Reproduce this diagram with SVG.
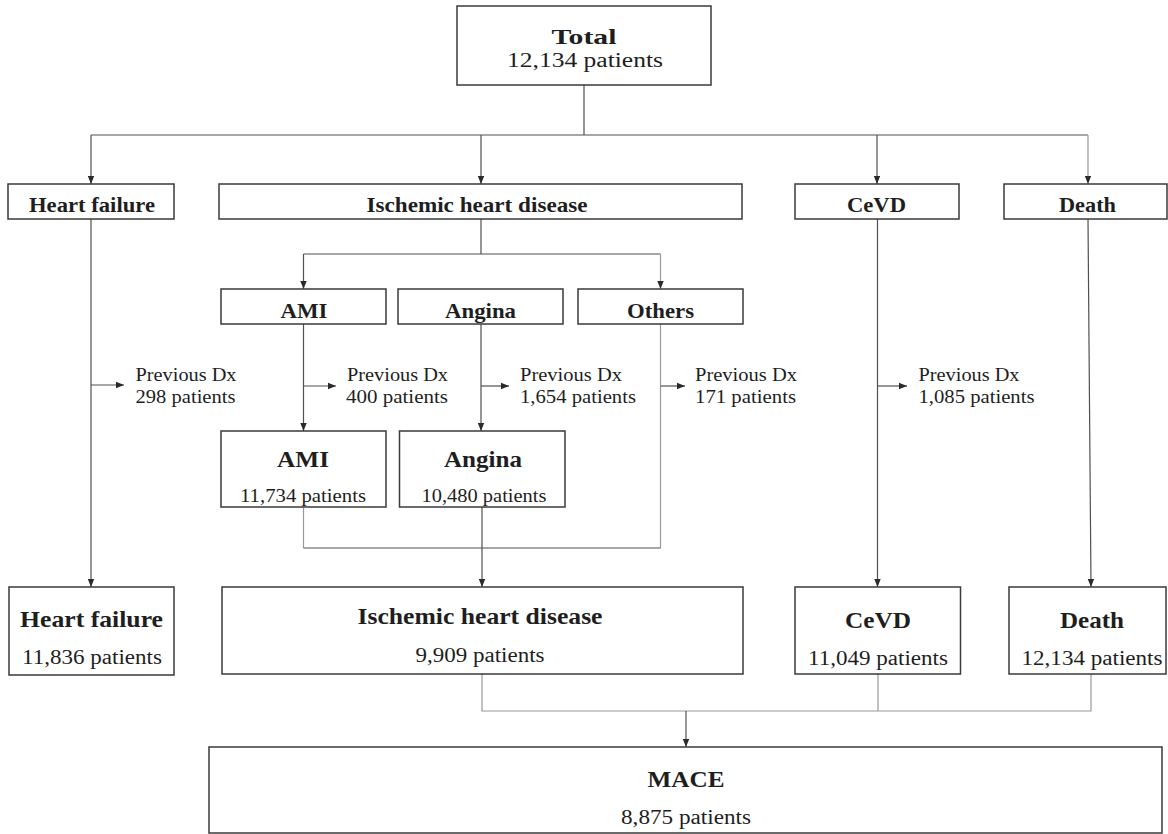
<svg xmlns="http://www.w3.org/2000/svg" width="1168" height="834" viewBox="0 0 1168 834">
<style>
.box{fill:#fff;stroke:#3a3a3a;stroke-width:1.5}
.t{font-family:"Liberation Serif","Times New Roman",serif;fill:#1e1e1e;text-anchor:middle}
.b{font-weight:bold}
.s{font-family:"Liberation Serif","Times New Roman",serif;fill:#1e1e1e;font-size:18px}
.c{fill:none;stroke:#505050;stroke-width:1.2}
.cl{fill:none;stroke:#9a9a9a;stroke-width:1.2}
</style>
<defs>
<marker id="ah" markerUnits="userSpaceOnUse" markerWidth="8" markerHeight="8" refX="8" refY="4" orient="auto">
<path d="M0,0.8 L8,4 L0,7.2 z" fill="#2a2a2a"/>
</marker>
</defs>
<rect width="1168" height="834" fill="#fff"/>
<g id="connectors">
<path class="c" d="M584,85 V135 M91,135 H1088"/>
<path class="c" d="M91,135 V184" marker-end="url(#ah)"/>
<path class="c" d="M481,135 V184" marker-end="url(#ah)"/>
<path class="c" d="M877,135 V184" marker-end="url(#ah)"/>
<path class="cl" d="M1088,135 V184" marker-end="url(#ah)"/>
<path class="c" d="M91,219 V587" marker-end="url(#ah)"/>
<path class="c" d="M91,385 H124" marker-end="url(#ah)"/>
<path class="c" d="M481,219 V254 M303.5,254 H660.5"/>
<path class="c" d="M303.5,254 V289" marker-end="url(#ah)"/>
<path class="cl" d="M660.5,254 V289" marker-end="url(#ah)"/>
<path class="c" d="M303.5,324 V431" marker-end="url(#ah)"/>
<path class="c" d="M303.5,386 H336" marker-end="url(#ah)"/>
<path class="c" d="M481,324 V431" marker-end="url(#ah)"/>
<path class="c" d="M481,386 H509" marker-end="url(#ah)"/>
<path class="cl" d="M660.5,324 V548"/>
<path class="c" d="M660.5,386 H685" marker-end="url(#ah)"/>
<path class="cl" d="M303.5,507 V548"/>
<path class="c" d="M303.5,548 H660.5"/>
<path class="c" d="M482,507 V587" marker-end="url(#ah)"/>
<path class="c" d="M877.5,219 V587" marker-end="url(#ah)"/>
<path class="c" d="M877.5,386 H907" marker-end="url(#ah)"/>
<path class="c" d="M1088,219 L1091,587" marker-end="url(#ah)"/>
<path class="cl" d="M482,674 V711 H1091 V674 M878,674 V711"/>
<path class="c" d="M686,711 V747" marker-end="url(#ah)"/>
</g>
<g id="total">
<rect class="box" x="457" y="6" width="254" height="79"/>
<text class="t b" x="584" y="44" font-size="22" textLength="65" lengthAdjust="spacingAndGlyphs">Total</text>
<text class="t" x="585" y="67" font-size="20" textLength="156" lengthAdjust="spacingAndGlyphs">12,134 patients</text>
</g>
<g id="hf-top">
<rect class="box" x="8" y="184" width="166" height="35"/>
<text class="t b" x="92" y="212" font-size="21" textLength="126" lengthAdjust="spacingAndGlyphs">Heart failure</text>
</g>
<g id="ihd-top">
<rect class="box" x="219" y="184" width="523" height="35"/>
<text class="t b" x="477" y="212" font-size="21" textLength="221" lengthAdjust="spacingAndGlyphs">Ischemic heart disease</text>
</g>
<g id="cevd-top">
<rect class="box" x="795" y="184" width="164" height="35"/>
<text class="t b" x="876.5" y="212" font-size="21" textLength="59" lengthAdjust="spacingAndGlyphs">CeVD</text>
</g>
<g id="death-top">
<rect class="box" x="1004" y="184" width="163" height="35"/>
<text class="t b" x="1087.5" y="212" font-size="21" textLength="57" lengthAdjust="spacingAndGlyphs">Death</text>
</g>
<g id="ami-top">
<rect class="box" x="221" y="289" width="165" height="35"/>
<text class="t b" x="304" y="318" font-size="21" textLength="47" lengthAdjust="spacingAndGlyphs">AMI</text>
</g>
<g id="angina-top">
<rect class="box" x="398" y="289" width="165" height="35"/>
<text class="t b" x="480.5" y="318" font-size="21" textLength="71" lengthAdjust="spacingAndGlyphs">Angina</text>
</g>
<g id="others-top">
<rect class="box" x="578" y="289" width="165" height="35"/>
<text class="t b" x="660.5" y="318" font-size="21" textLength="67" lengthAdjust="spacingAndGlyphs">Others</text>
</g>
<g id="prev-hf">
<text class="s" x="135.5" y="381" textLength="101" lengthAdjust="spacingAndGlyphs">Previous Dx</text>
<text class="s" x="135.5" y="403" textLength="100" lengthAdjust="spacingAndGlyphs">298 patients</text>
</g>
<g id="prev-ami">
<text class="s" x="347" y="381" textLength="101" lengthAdjust="spacingAndGlyphs">Previous Dx</text>
<text class="s" x="346" y="403" textLength="102" lengthAdjust="spacingAndGlyphs">400 patients</text>
</g>
<g id="prev-angina">
<text class="s" x="520" y="381" textLength="102" lengthAdjust="spacingAndGlyphs">Previous Dx</text>
<text class="s" x="520" y="403" textLength="116" lengthAdjust="spacingAndGlyphs">1,654 patients</text>
</g>
<g id="prev-others">
<text class="s" x="695" y="381" textLength="102" lengthAdjust="spacingAndGlyphs">Previous Dx</text>
<text class="s" x="695" y="403" textLength="101" lengthAdjust="spacingAndGlyphs">171 patients</text>
</g>
<g id="prev-cevd">
<text class="s" x="918.5" y="381" textLength="101" lengthAdjust="spacingAndGlyphs">Previous Dx</text>
<text class="s" x="918.5" y="403" textLength="116" lengthAdjust="spacingAndGlyphs">1,085 patients</text>
</g>
<g id="ami">
<rect class="box" x="221" y="431" width="165" height="76"/>
<text class="t b" x="303" y="467" font-size="23" textLength="52" lengthAdjust="spacingAndGlyphs">AMI</text>
<text class="t" x="303" y="502" font-size="19" textLength="126" lengthAdjust="spacingAndGlyphs">11,734 patients</text>
</g>
<g id="angina">
<rect class="box" x="399.5" y="431" width="165.5" height="76"/>
<text class="t b" x="483" y="467" font-size="23" textLength="78" lengthAdjust="spacingAndGlyphs">Angina</text>
<text class="t" x="484" y="502" font-size="19" textLength="125" lengthAdjust="spacingAndGlyphs">10,480 patients</text>
</g>
<g id="hf">
<rect class="box" x="9" y="587" width="165" height="88"/>
<text class="t b" x="91.5" y="627" font-size="24" textLength="143" lengthAdjust="spacingAndGlyphs">Heart failure</text>
<text class="t" x="92" y="664" font-size="20" textLength="140" lengthAdjust="spacingAndGlyphs">11,836 patients</text>
</g>
<g id="ihd">
<rect class="box" x="222" y="587" width="521" height="87"/>
<text class="t b" x="480" y="624" font-size="24" textLength="245" lengthAdjust="spacingAndGlyphs">Ischemic heart disease</text>
<text class="t" x="480" y="662" font-size="20" textLength="129" lengthAdjust="spacingAndGlyphs">9,909 patients</text>
</g>
<g id="cevd">
<rect class="box" x="795" y="587" width="165.5" height="87"/>
<text class="t b" x="878" y="628" font-size="24" textLength="66" lengthAdjust="spacingAndGlyphs">CeVD</text>
<text class="t" x="878" y="665" font-size="20" textLength="140" lengthAdjust="spacingAndGlyphs">11,049 patients</text>
</g>
<g id="death">
<rect class="box" x="1009" y="587" width="157" height="87"/>
<text class="t b" x="1092" y="628" font-size="24" textLength="64" lengthAdjust="spacingAndGlyphs">Death</text>
<text class="t" x="1092" y="665" font-size="20" textLength="141" lengthAdjust="spacingAndGlyphs">12,134 patients</text>
</g>
<g id="mace">
<rect class="box" x="209" y="747" width="953" height="86"/>
<text class="t b" x="686" y="787" font-size="24" textLength="77" lengthAdjust="spacingAndGlyphs">MACE</text>
<text class="t" x="686" y="824" font-size="20" textLength="130" lengthAdjust="spacingAndGlyphs">8,875 patients</text>
</g>
</svg>
